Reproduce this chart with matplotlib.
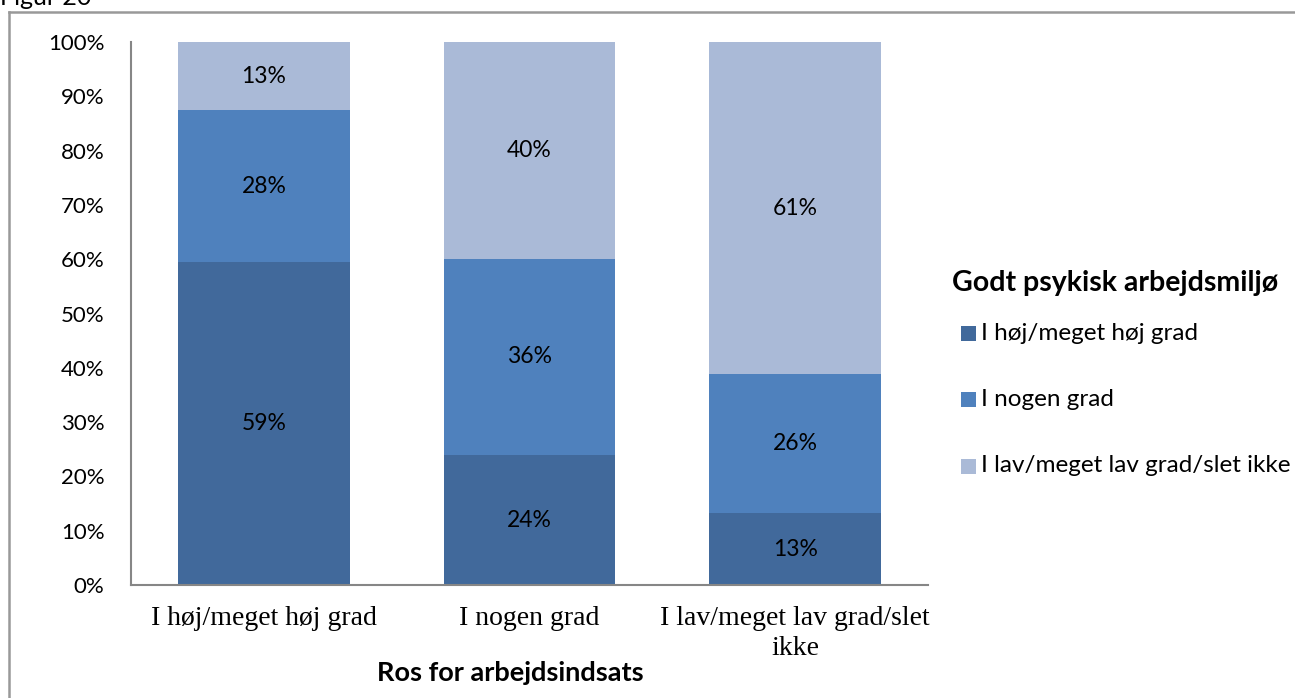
import matplotlib
matplotlib.use("Agg")
import matplotlib.pyplot as plt
from matplotlib.patches import Rectangle
from matplotlib.lines import Line2D
import numpy as np

categories = ["I høj/meget høj grad", "I nogen grad", "I lav/meget lav grad/slet\nikke"]
series = ["I høj/meget høj grad", "I nogen grad", "I lav/meget lav grad/slet ikke"]
values_high = [59.4, 23.9, 13.2]
values_some = [28.0, 36.2, 25.6]
values_low = [12.6, 39.9, 61.2]
colors = ["#41699B", "#4F81BD", "#AABAD7"]
yticks = [0, 10, 20, 30, 40, 50, 60, 70, 80, 90, 100]

W, H = 1295, 698
fig = plt.figure(figsize=(W / 100, H / 100), dpi=100)

def fx(px):
    return px / W

def fy(py):
    return 1 - py / H

ax = fig.add_axes([fx(131), fy(585), fx(928) - fx(131), fy(42) - fy(585)])

sans = "Lato"
serif = "Liberation Serif"

x = np.arange(len(categories))
bottom = np.zeros(len(categories))
for vals, col in zip([values_high, values_some, values_low], colors):
    vals = np.array(vals)
    ax.bar(x, vals, width=0.645, bottom=bottom, color=col, edgecolor="none")
    for xi, b, v in zip(x, bottom, vals):
        ax.text(xi, b + v / 2, "%.0f%%" % v, ha="center", va="center",
                fontsize=16.5, family=sans, color="black")
    bottom = bottom + vals

ax.set_xlim(-0.5, len(categories) - 0.5)
ax.set_ylim(0, 100)
ax.set_yticks(yticks)
ax.set_yticklabels(["%d%%" % t for t in yticks], family=sans, fontsize=16)
ax.set_xticks(x)
ax.set_xticklabels(categories, family=serif, fontsize=20, linespacing=1.28)
ax.tick_params(axis="both", length=0)
ax.tick_params(axis="y", pad=19)
ax.tick_params(axis="x", pad=15)
for s in ["top", "right"]:
    ax.spines[s].set_visible(False)
for s in ["left", "bottom"]:
    ax.spines[s].set_color("#868686")
    ax.spines[s].set_linewidth(1.5)

fig.text(fx(510), fy(673), "Ros for arbejdsindsats", ha="center", va="center",
         fontsize=19.5, fontweight="bold", family=sans)

# legend (manual)
fig.text(fx(952), fy(283), "Godt psykisk arbejdsmiljø", ha="left", va="center",
         fontsize=20.5, fontweight="bold", family=sans)
for i, (lab, col) in enumerate(zip(series, colors)):
    yc = 333 + i * 66.5
    fig.patches.append(Rectangle((fx(961), fy(yc + 7.5)), fx(15), fy(0) - fy(15),
                                 transform=fig.transFigure, facecolor=col,
                                 edgecolor="none"))
    fig.text(fx(981), fy(yc), lab, ha="left", va="center", fontsize=17.5,
             family=sans)

# frame lines
fig.add_artist(Line2D([fx(9), fx(9)], [fy(12), 0], transform=fig.transFigure,
                      color="#999999", lw=1.8))
fig.add_artist(Line2D([fx(9), 1], [fy(12), fy(12)], transform=fig.transFigure,
                      color="#999999", lw=1.8))
fig.text(fx(0), fy(5), "Figur 20", ha="left", va="baseline", fontsize=18,
         family=sans)

fig.savefig("out.png", dpi=100, facecolor="white")
